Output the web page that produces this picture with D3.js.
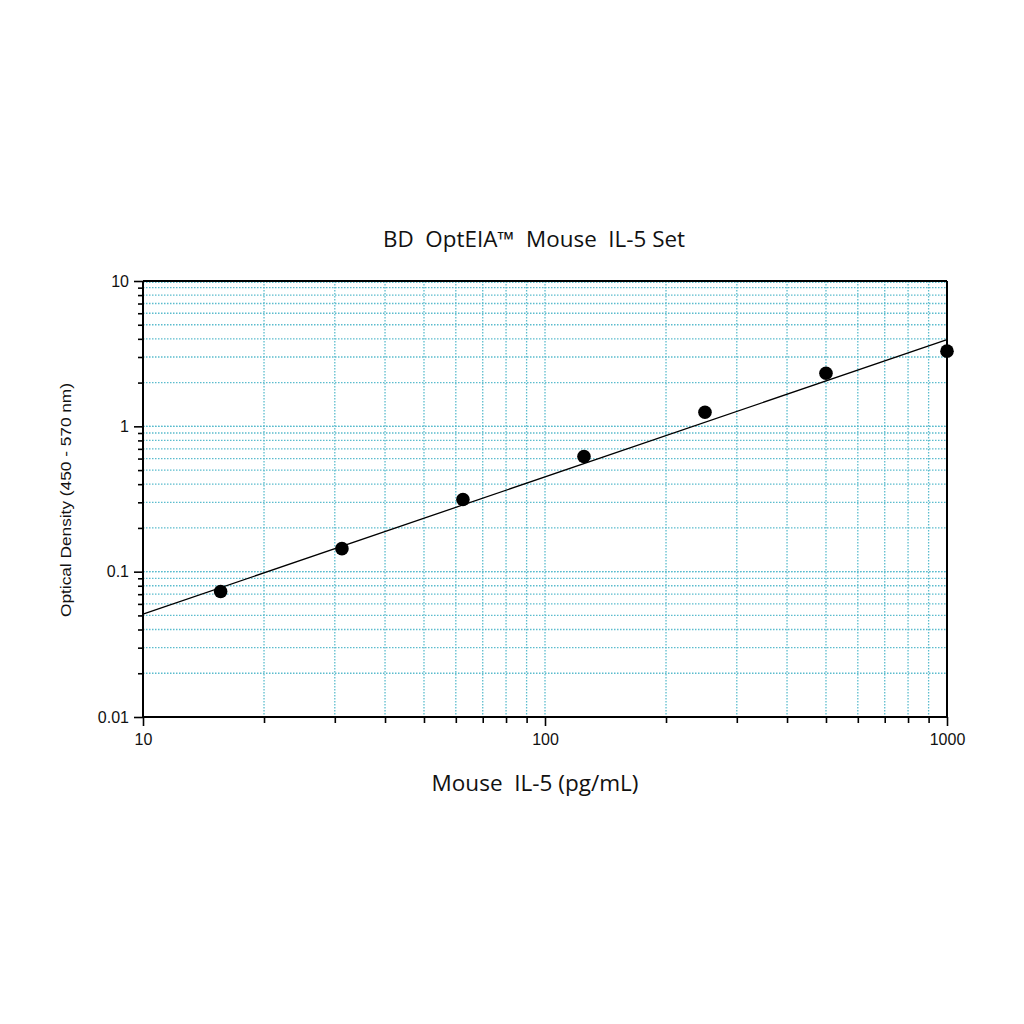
<!DOCTYPE html>
<html><head><meta charset="utf-8">
<script src="https://cdn.jsdelivr.net/npm/d3@7"></script>
<style>body{margin:0;background:#fff}svg{display:block}</style>
</head><body>
<script>
const title = "BD  OptEIA\u2122  Mouse  IL-5 Set";
const xLabel = "Mouse  IL-5 (pg/mL)";
const yLabel = "Optical Density (450 - 570 nm)";
const concentrations = [15.6, 31.25, 62.5, 125, 250, 500, 1000];
const odValues = [0.073, 0.144, 0.314, 0.62, 1.25, 2.32, 3.29];
const fitX = [10, 1000];
const fitY = [0.051, 3.95];
const xTickLabels = [10, 100, 1000];
const yTickLabels = [0.01, 0.1, 1, 10];

const W = 1024, H = 1024;
const L = 143, R = 947, T = 281, B = 717;
const svg = d3.select("body").append("svg").attr("width", W).attr("height", H);
const x = d3.scaleLog().domain([10, 1000]).range([L, R]);
const y = d3.scaleLog().domain([0.01, 10]).range([B, T]);

const gridCol = "#5bbccd";
const xMinor = [], yMinor = [];
for (const d of [10, 100]) for (let k = 2; k <= 10; k++) xMinor.push(d * k);
for (const d of [0.01, 0.1, 1]) for (let k = 2; k <= 10; k++) yMinor.push(d * k);

const g = svg.append("g");
g.selectAll(".vg").data(xMinor.filter(v => v < 1000)).join("line")
  .attr("x1", d => x(d)).attr("x2", d => x(d)).attr("y1", T).attr("y2", B)
  .attr("stroke", gridCol).attr("stroke-width", 1.3).attr("stroke-dasharray", "1.5,1.5");
g.selectAll(".hg").data(yMinor.filter(v => v < 10).concat([0.1, 1, 9.8])).join("line")
  .attr("y1", d => y(d)).attr("y2", d => y(d)).attr("x1", L).attr("x2", R)
  .attr("stroke", gridCol).attr("stroke-width", 1.3).attr("stroke-dasharray", "1.5,1.5");

const isMajorY = d => yTickLabels.some(v => Math.abs(v - d) < 1e-9);
// axes
const xAxis = d3.axisBottom(x).tickValues([10].concat(xMinor)).tickSize(5)
  .tickFormat(d => xTickLabels.includes(d) ? String(d) : "");
const gx = svg.append("g").attr("transform", `translate(0,${B})`).call(xAxis);
gx.attr("font-size", 16);
gx.select(".domain").attr("stroke", "#000").attr("stroke-width", 2).attr("d", `M${L},0H${R}`);
gx.selectAll(".tick line").attr("stroke", "#000").attr("stroke-width", 1.6)
  .attr("y2", d => xTickLabels.includes(d) ? 9 : 6);
gx.selectAll(".tick text").attr("y", 17).attr("font-family", "Liberation Sans, Arial, sans-serif")
  .attr("font-size", 16).attr("fill", "#111");

const yAxis = d3.axisLeft(y).tickValues([0.01].concat(yMinor)).tickSize(5)
  .tickFormat(d => isMajorY(d) ? String(+d.toPrecision(3)) : "");
const gy = svg.append("g").attr("transform", `translate(${L},0)`).call(yAxis);
gy.attr("font-size", 16);
gy.select(".domain").attr("stroke", "#000").attr("stroke-width", 2).attr("d", `M0,${B}V${T}`);
gy.selectAll(".tick line").attr("stroke", "#000").attr("stroke-width", 1.6)
  .attr("x2", d => isMajorY(d) ? -9 : -5);
gy.selectAll(".tick text").attr("x", -14).attr("font-family", "Liberation Sans, Arial, sans-serif")
  .attr("font-size", 16).attr("fill", "#111");

// frame top/right
svg.append("line").attr("x1", L).attr("x2", R).attr("y1", T).attr("y2", T).attr("stroke", "#000").attr("stroke-width", 2);
svg.append("line").attr("x1", R).attr("x2", R).attr("y1", T).attr("y2", B).attr("stroke", "#000").attr("stroke-width", 2);

// fit line
svg.append("line").attr("x1", x(fitX[0])).attr("y1", y(fitY[0])).attr("x2", x(fitX[1])).attr("y2", y(fitY[1]))
  .attr("stroke", "#000").attr("stroke-width", 1.3);

// points
svg.selectAll(".pt").data(concentrations).join("circle")
  .attr("cx", d => x(d)).attr("cy", (d, i) => y(odValues[i])).attr("r", 6.8).attr("fill", "#000");

// labels
svg.append("text").attr("x", 534).attr("y", 247).attr("text-anchor", "middle")
  .attr("font-family", "Open Sans, Noto Sans, sans-serif").attr("font-size", 21)
  .attr("textLength", 302).attr("lengthAdjust", "spacingAndGlyphs")
  .style("white-space", "pre").attr("fill", "#111").text(title);
svg.append("text").attr("x", 535).attr("y", 791).attr("text-anchor", "middle")
  .attr("font-family", "Open Sans, Noto Sans, sans-serif").attr("font-size", 21)
  .attr("textLength", 207).attr("lengthAdjust", "spacingAndGlyphs")
  .style("white-space", "pre").attr("fill", "#111").text(xLabel);
svg.append("text").attr("transform", "translate(71,500) rotate(-90)").attr("text-anchor", "middle")
  .attr("font-family", "Liberation Sans Narrow, Liberation Sans, Arial, sans-serif").attr("font-size", 14)
  .attr("textLength", 234).attr("lengthAdjust", "spacingAndGlyphs")
  .attr("fill", "#111").text(yLabel);
</script>
</body></html>
